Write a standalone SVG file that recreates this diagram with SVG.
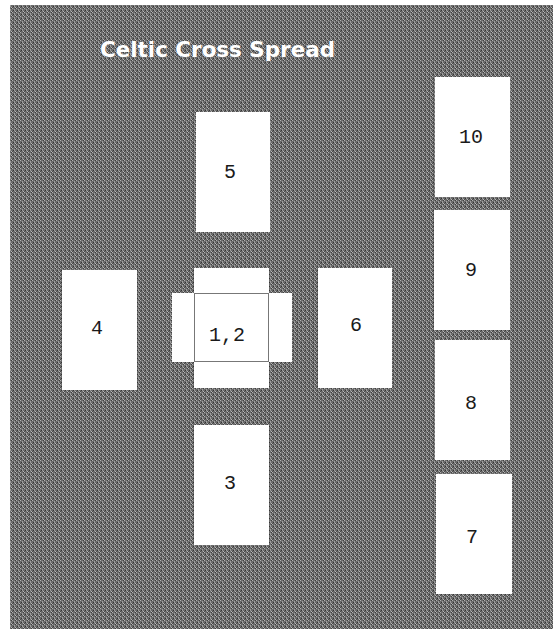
<svg xmlns="http://www.w3.org/2000/svg" width="553" height="629" viewBox="0 0 553 629">
  <defs>
    <pattern id="grain" width="4" height="4" patternUnits="userSpaceOnUse">
      <rect width="4" height="4" fill="#6a6a6a"/>
      <rect x="0" y="0" width="1" height="1" fill="#b0b0b0"/>
      <rect x="2" y="1" width="1" height="1" fill="#a0a0a0"/>
      <rect x="1" y="2" width="1" height="1" fill="#333"/>
      <rect x="3" y="3" width="1" height="1" fill="#b8b8b8"/>
      <rect x="3" y="0" width="1" height="1" fill="#404040"/>
      <rect x="0" y="3" width="1" height="1" fill="#4a4a4a"/>
      <rect x="2" y="2" width="1" height="1" fill="#9c9c9c"/>
    </pattern>
  </defs>
  <style>
    .card { fill: #ffffff; }
    .num { font-family: "Liberation Mono", "DejaVu Sans Mono", monospace; font-size: 20px; fill: #1a1a1a; text-anchor: middle; }
    .title { font-family: "DejaVu Sans", "Liberation Sans", sans-serif; font-weight: bold; font-size: 22px; fill: #ffffff; }
    .overlap { fill: none; stroke: #777; stroke-width: 1; }
  </style>
  <rect width="553" height="629" fill="#ffffff"/>
  <rect id="background" x="10" y="5" width="543" height="624" fill="url(#grain)"/>
  <text id="title" class="title" x="100" y="57" textLength="235" lengthAdjust="spacingAndGlyphs">Celtic Cross Spread</text>

  <g id="card-1-2">
    <rect class="card" x="194" y="268" width="75" height="120"/>
    <rect class="card" x="172" y="293" width="120" height="69"/>
    <rect class="overlap" x="194.5" y="293.5" width="74" height="68"/>
    <text class="num" x="227" y="341">1,2</text>
  </g>
  <g id="card-3">
    <rect class="card" x="194" y="425" width="75" height="120"/>
    <text class="num" x="230" y="489">3</text>
  </g>
  <g id="card-4">
    <rect class="card" x="62" y="270" width="75" height="120"/>
    <text class="num" x="97" y="334">4</text>
  </g>
  <g id="card-5">
    <rect class="card" x="196" y="112" width="74" height="120"/>
    <text class="num" x="230" y="178">5</text>
  </g>
  <g id="card-6">
    <rect class="card" x="318" y="268" width="74" height="120"/>
    <text class="num" x="356" y="331">6</text>
  </g>
  <g id="card-7">
    <rect class="card" x="436" y="474" width="76" height="120"/>
    <text class="num" x="472" y="543">7</text>
  </g>
  <g id="card-8">
    <rect class="card" x="435" y="340" width="75" height="120"/>
    <text class="num" x="471" y="409">8</text>
  </g>
  <g id="card-9">
    <rect class="card" x="434" y="210" width="76" height="120"/>
    <text class="num" x="471" y="276">9</text>
  </g>
  <g id="card-10">
    <rect class="card" x="435" y="77" width="75" height="120"/>
    <text class="num" x="471" y="143">10</text>
  </g>
  <g id="connectors"/>
</svg>
